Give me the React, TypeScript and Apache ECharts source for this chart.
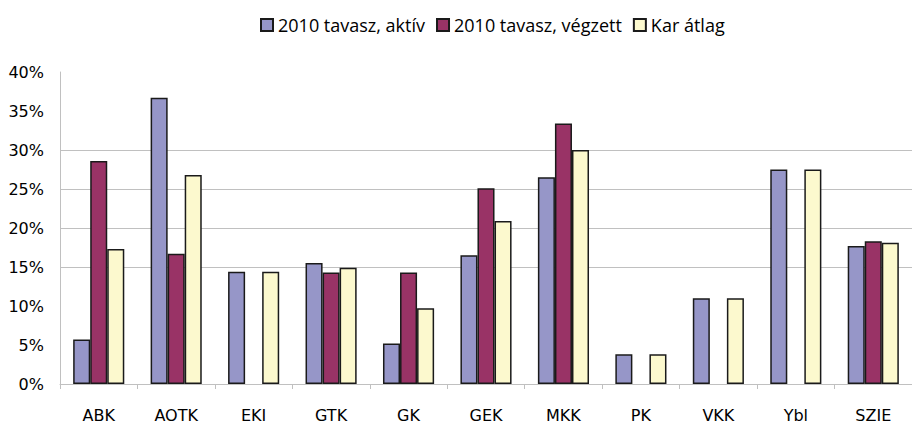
import React, { useEffect, useRef } from "react";
import * as echarts from "echarts";

const categories = ["ABK", "AOTK", "EKI", "GTK", "GK", "GEK", "MKK", "PK", "VKK", "Ybl", "SZIE"];
const seriesNames = ["2010 tavasz, aktív", "2010 tavasz, végzett", "Kar átlag"];
const aktiv = [5.7, 36.7, 14.4, 15.5, 5.2, 16.5, 26.5, 3.8, 11.0, 27.5, 17.7];
const vegzett = [28.6, 16.7, null, 14.3, 14.3, 25.1, 33.4, null, null, null, 18.3];
const karAtlag = [17.3, 26.8, 14.4, 14.9, 9.7, 20.9, 30.0, 3.8, 11.0, 27.5, 18.1];
const yTicks = { min: 0, max: 40, interval: 5 };
const colors = ["#9696C8", "#993366", "#FCF9CE"];

export default function App() {
  const ref = useRef<HTMLDivElement>(null);
  useEffect(() => {
    if (!ref.current) return;
    const chart = echarts.init(ref.current, undefined, { renderer: "svg" });
    const grey = "#c0c0c0";
    const mkSeries = (name: string, data: (number | null)[], color: string) => ({
      name,
      type: "bar",
      data,
      barGap: "0%",
      barCategoryGap: "34%",
      itemStyle: { color, borderColor: "#1a1a1a", borderWidth: 1.5 },
    });
    chart.setOption({
      animation: false,
      textStyle: { fontFamily: "DejaVu Sans" },
      legend: {
        left: 255,
        top: 11,
        itemWidth: 12,
        itemHeight: 12,
        itemGap: 11,
        icon: "rect",
        textStyle: { fontFamily: "Open Sans", fontSize: 18, color: "#000", lineHeight: 18 },
        data: seriesNames,
      },
      grid: { left: 60, top: 72, width: 860, height: 313, containLabel: false },
      xAxis: {
        type: "category",
        data: categories,
        boundaryGap: true,
        axisLine: { lineStyle: { color: grey, width: 1 } },
        axisTick: { show: true, length: 5, lineStyle: { color: grey } },
        axisLabel: { color: "#000", fontSize: 16, fontFamily: "DejaVu Sans", margin: 23 },
      },
      yAxis: {
        type: "value",
        min: yTicks.min,
        max: yTicks.max,
        interval: yTicks.interval,
        axisLine: { show: true, lineStyle: { color: grey, width: 1 } },
        axisTick: { show: false },
        axisLabel: { color: "#000", fontSize: 16, fontFamily: "DejaVu Sans", margin: 16, formatter: "{value}%" },
        splitLine: {
          show: true,
          lineStyle: {
            color: ["transparent", "transparent", "transparent", grey, grey, grey, grey, "transparent", "transparent"],
            width: 1,
          },
        },
      },
      series: [
        mkSeries(seriesNames[0], aktiv, colors[0]),
        mkSeries(seriesNames[1], vegzett, colors[1]),
        mkSeries(seriesNames[2], karAtlag, colors[2]),
      ],
    });
    return () => chart.dispose();
  }, []);
  return (
    <div
      ref={ref}
      style={{ position: "fixed", left: 0, top: 0, width: 912, height: 423, background: "#fff" }}
    />
  );
}
